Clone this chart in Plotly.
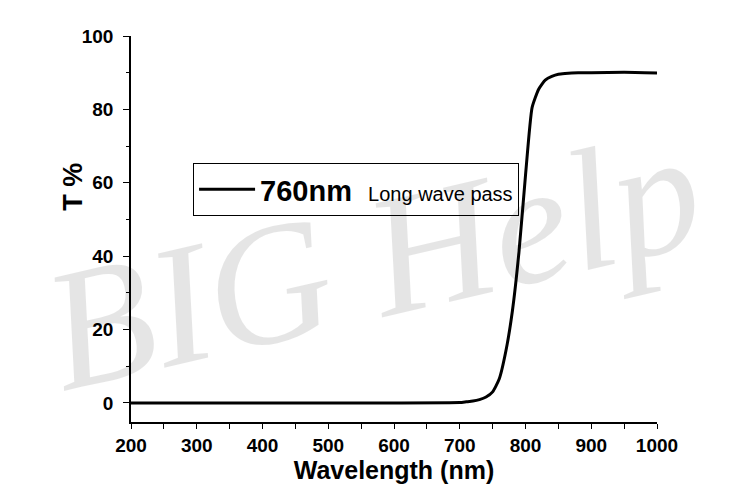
import plotly.graph_objects as go

wavelength = [200, 300, 400, 500, 600, 700, 710, 720, 730, 740, 750, 760, 770, 780, 790,
              800, 810, 820, 830, 840, 850, 860, 880, 900, 950, 1000]
transmission = [0, 0, 0, 0, 0, 0.1, 0.3, 0.5, 0.9, 1.6, 3, 6.5, 14, 25, 41,
                62, 80.5, 85.5, 88, 89, 89.6, 89.8, 90, 90, 90.1, 89.9]
series_name = "<b>760nm</b>  <span style='font-size:20px;font-weight:normal'>Long wave pass</span>"

fig = go.Figure()
fig.add_trace(go.Scatter(
    x=wavelength, y=transmission, mode="lines",
    line=dict(color="black", width=3, shape="spline", smoothing=0.5),
    name=series_name, showlegend=True,
))

fig.add_annotation(
    text="BIG Help", xref="paper", yref="paper", x=0.46, y=0.42,
    xanchor="center", yanchor="middle", showarrow=False, textangle=-13,
    font=dict(family="Liberation Serif", size=172, color="rgba(0,0,0,0.1)", style="italic"),
)

fig.add_annotation(
    text="<b>T %</b>", xref="paper", yref="paper", x=-0.112, y=0.61,
    xanchor="center", yanchor="middle", showarrow=False, textangle=-90,
    font=dict(family="Liberation Sans", size=27, color="black"),
)

axis_font = dict(family="Liberation Sans", size=19, color="black", weight="bold")

fig.update_layout(
    width=750, height=500,
    margin=dict(l=123, r=101, t=28, b=86),
    paper_bgcolor="white", plot_bgcolor="white",
    font=dict(family="Liberation Sans", color="black"),
    showlegend=True,
    legend=dict(
        x=0.118, y=0.671, xanchor="left", yanchor="top",
        bordercolor="black", borderwidth=1, bgcolor="rgba(255,255,255,0)",
        font=dict(family="Liberation Sans", size=29, color="black"),
        itemwidth=56, tracegroupgap=0,
    ),
    xaxis=dict(
        range=[200, 1000], dtick=100, tick0=200,
        showline=True, linecolor="black", linewidth=1.5,
        ticks="outside", ticklen=5, tickwidth=1.2, tickcolor="black",
        minor=dict(dtick=50, ticks="outside", ticklen=5, tickwidth=1.2, tickcolor="black"),
        showgrid=False, zeroline=False, mirror=False,
        tickfont=axis_font,
        title=dict(text="Wavelength (nm)", font=dict(family="Liberation Sans", size=25, color="black", weight="bold"), standoff=4),
    ),
    yaxis=dict(
        range=[-5.2, 100], tickvals=[0, 20, 40, 60, 80, 100],
        showline=True, linecolor="black", linewidth=1.5,
        ticks="outside", ticklen=6, tickwidth=1.2, tickcolor="black",
        minor=dict(tickvals=[10, 30, 50, 70, 90], ticks="outside", ticklen=3, tickwidth=1.2, tickcolor="black"),
        showgrid=False, zeroline=False, mirror=False,
        tickfont=axis_font, ticklabelstandoff=6,
    ),
)

fig.write_html("out.html")
